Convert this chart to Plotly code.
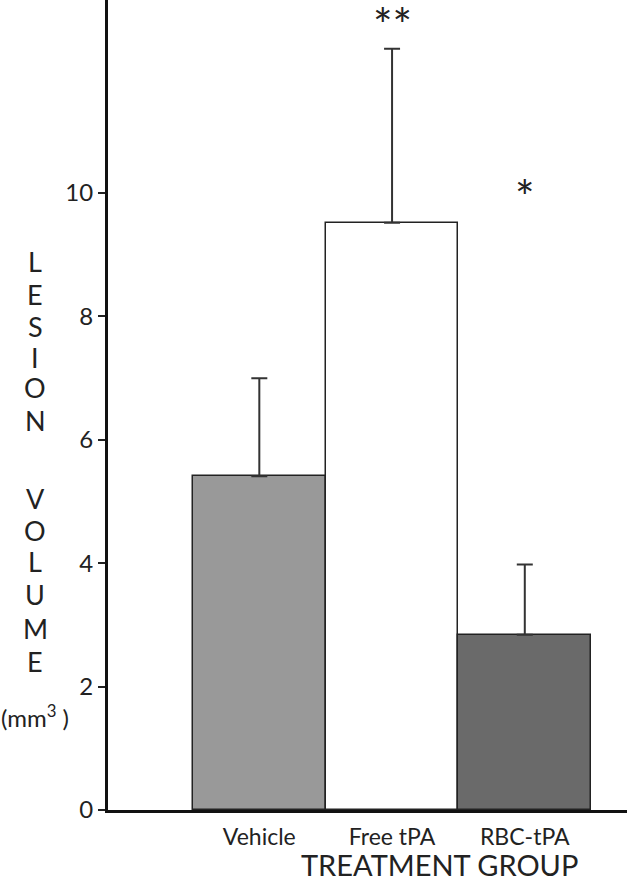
import plotly.graph_objects as go

# ---- data ----
groups = ["Vehicle", "Free tPA", "RBC-tPA"]
lesion_volume = [5.41, 9.52, 2.84]
error_up = [1.59, 2.82, 1.14]
bar_colors = ["#999999", "#ffffff", "#6a6a6a"]
significance = ["", "**", "*"]
sig_y = [0, 12.74, 9.95]
y_ticks = [0, 2, 4, 6, 8, 10]

FONT = "Lato"
W, H = 627, 884
ML, MR, MT, MB = 108, 0, 0, 74
pw, ph = W - ML - MR, H - MT - MB

fig = go.Figure()
fig.add_trace(go.Bar(
    x=groups, y=lesion_volume,
    marker=dict(color=bar_colors, line=dict(color="#222222", width=1.5)),
    error_y=dict(type="data", symmetric=False, array=error_up,
                 arrayminus=[0, 0, 0], color="#333333", thickness=2, width=8),
    width=1.0, showlegend=False,
))

annotations = []
for g, s, yy in zip(groups, significance, sig_y):
    if s:
        annotations.append(dict(x=g, y=yy, xref="x", yref="y", text=s,
                                showarrow=False, yanchor="middle",
                                font=dict(family=FONT, size=46, color="#222222")))

def px_to_paper_x(px):
    return (px - ML) / pw

def px_to_paper_y(py):
    return (H - MB - py) / ph

# stacked y-axis title
letters1 = "LESION"
letters2 = "VOLUME"
y1 = [262, 294, 326, 357, 388, 420]
y2 = [498, 530, 562, 594, 628, 661]
for ch, py in zip(list(letters1) + list(letters2), y1 + y2):
    annotations.append(dict(x=px_to_paper_x(35), y=px_to_paper_y(py),
                            xref="paper", yref="paper", text=ch, showarrow=False,
                            xanchor="center", yanchor="middle",
                            font=dict(family=FONT, size=27, color="#222222")))
annotations.append(dict(x=px_to_paper_x(35), y=px_to_paper_y(716),
                        xref="paper", yref="paper", text="(mm<sup>3</sup> )",
                        showarrow=False, xanchor="center", yanchor="middle",
                        font=dict(family=FONT, size=24, color="#222222")))
annotations.append(dict(x=px_to_paper_x(439), y=px_to_paper_y(864),
                        xref="paper", yref="paper", text="TREATMENT GROUP",
                        showarrow=False, xanchor="center", yanchor="middle",
                        font=dict(family=FONT, size=29, color="#222222")))

fig.update_layout(
    width=W, height=H,
    margin=dict(l=ML, r=MR, t=MT, b=MB),
    plot_bgcolor="white", paper_bgcolor="white",
    bargap=0,
    annotations=annotations,
    font=dict(family=FONT, color="#222222"),
)
fig.update_xaxes(range=[-1.14, 2.77], showline=True, linecolor="#111111",
                 linewidth=3, ticks="outside", ticklen=4,
                 tickcolor="rgba(0,0,0,0)", tickfont=dict(size=23, family=FONT),
                 showgrid=False, zeroline=False)
fig.update_yaxes(range=[0, 13.13], showline=True, linecolor="#111111",
                 linewidth=3, tickvals=y_ticks, ticks="outside", ticklen=7,
                 tickwidth=1.5, tickcolor="#222222",
                 tickfont=dict(size=24, family=FONT),
                 showgrid=False, zeroline=False)

fig.write_html("out.html", config={"displayModeBar": False},
               post_script="document.body.style.margin='0';document.body.style.overflow='hidden';")
